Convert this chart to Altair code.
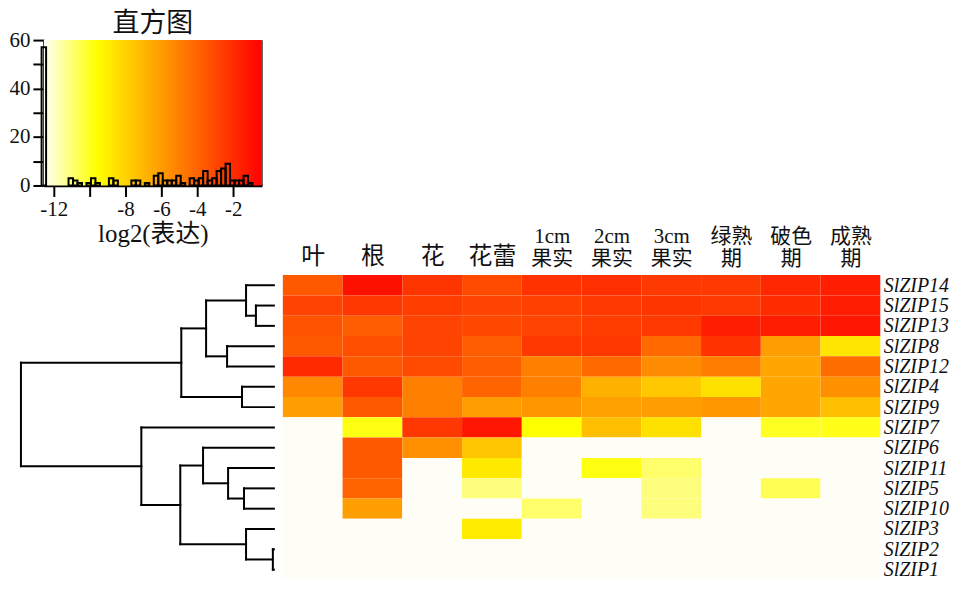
import json
import altair as alt
import pandas as pd

# ---------------- data ----------------
COLUMNS = [["", "叶"], ["", "根"], ["", "花"], ["", "花蕾"], ["1cm", "果实"], ["2cm", "果实"],
           ["3cm", "果实"], ["绿熟", "期"], ["破色", "期"], ["成熟", "期"]]
GENES = ["SlZIP14", "SlZIP15", "SlZIP13", "SlZIP8", "SlZIP12", "SlZIP4", "SlZIP9",
         "SlZIP7", "SlZIP6", "SlZIP11", "SlZIP5", "SlZIP10", "SlZIP3", "SlZIP2", "SlZIP1"]

# log2(expression) per gene, columns in COLUMNS order; None = not detected
SlZIP14 = [-3.6, -1.0, -2.3, -3.1, -2.2, -2.1, -2.5, -2.5, -1.8, -1.5]
SlZIP15 = [-2.8, -2.4, -2.6, -2.8, -2.7, -2.5, -2.3, -2.5, -2.0, -1.4]
SlZIP13 = [-3.4, -3.8, -2.8, -3.0, -2.8, -2.6, -2.5, -1.5, -1.4, -1.2]
SlZIP8 = [-3.6, -3.2, -2.8, -3.8, -2.4, -2.4, -4.2, -2.2, -6.1, -8.7]
SlZIP12 = [-1.9, -3.6, -3.1, -3.8, -5.0, -4.2, -5.4, -4.9, -6.4, -4.4]
SlZIP4 = [-5.3, -2.4, -5.0, -4.0, -5.0, -6.8, -7.6, -8.5, -6.4, -5.6]
SlZIP9 = [-6.1, -3.6, -5.0, -6.1, -5.8, -6.2, -6.1, -5.9, -6.4, -7.3]
SlZIP7 = [None, -9.8, -2.4, -1.2, -9.6, -7.3, -8.5, None, -10.0, -9.9]
SlZIP6 = [None, -3.6, -5.6, -7.5, None, None, None, None, None, None]
SlZIP11 = [None, -3.6, None, -8.8, None, -9.8, -10.9, None, None, None]
SlZIP5 = [None, -4.0, None, -11.1, None, None, -11.1, None, -10.6, None]
SlZIP10 = [None, -6.1, None, None, -10.9, None, -11.1, None, None, None]
SlZIP3 = [None, None, None, -8.9, None, None, None, None, None, None]
SlZIP2 = [None, None, None, None, None, None, None, None, None, None]
SlZIP1 = [None, None, None, None, None, None, None, None, None, None]
ROWS = [SlZIP14, SlZIP15, SlZIP13, SlZIP8, SlZIP12, SlZIP4, SlZIP9, SlZIP7,
        SlZIP6, SlZIP11, SlZIP5, SlZIP10, SlZIP3, SlZIP2, SlZIP1]

BLANK = -12.55  # value used for undetected cells
COLOR_VALUES = [-12.55, -9.6, -0.4]
COLOR_RANGE = ["#FEFEF6", "#FFFF00", "#FF0000"]

HIST_X_DOMAIN = [-12.55, -0.4]
HIST_Y_DOMAIN = [0, 60]
HIST_BIN_EXTENT = [-12.675, -0.175]
HIST_BIN_STEP = 0.25
HIST_X_TICKS = [-12, -10, -8, -6, -4, -2]
HIST_Y_TICKS = [0, 10, 20, 30, 40, 50, 60]

# dendrogram: leaves are row indices 0..14 (GENES order); new nodes numbered 15..
MERGE_LEFT = [1, 0, 3, 16, 5, 18, 10, 9, 8, 13, 12, 23, 7, 20]
MERGE_RIGHT = [2, 15, 4, 17, 6, 19, 11, 21, 22, 14, 24, 25, 26, 27]
MERGE_HEIGHT = [0.71, 1.10, 1.85, 2.68, 1.26, 3.66, 1.18, 1.81, 2.80, 0.04, 1.10, 3.70, 5.24, 10.0]

# ---------------- tables ----------------
cells = []
for r, (gene, vals) in enumerate(zip(GENES, ROWS)):
    for c, v in enumerate(vals):
        cells.append({"gene": gene, "row0": r, "row1": r + 1, "col0": c, "col1": c + 1,
                      "value": BLANK if v is None else v})
cells = pd.DataFrame(cells)

node_y = {i: i + 0.5 for i in range(len(GENES))}
node_h = {i: 0.0 for i in range(len(GENES))}
segs = []
for k, (a, b, h) in enumerate(zip(MERGE_LEFT, MERGE_RIGHT, MERGE_HEIGHT)):
    n = len(GENES) + k
    node_y[n] = (node_y[a] + node_y[b]) / 2
    node_h[n] = h
    segs.append({"x": h, "x2": h, "y": node_y[a], "y2": node_y[b]})
    segs.append({"x": node_h[a], "x2": h, "y": node_y[a], "y2": node_y[a]})
    segs.append({"x": node_h[b], "x2": h, "y": node_y[b], "y2": node_y[b]})
segs = pd.DataFrame(segs)

SERIF = "Liberation Serif, Noto Sans CJK SC"

# ---------------- histogram ----------------
hx = alt.Scale(domain=HIST_X_DOMAIN, nice=False, zero=False)
hy = alt.Scale(domain=HIST_Y_DOMAIN, nice=False)
axis_common = dict(domainColor="black", domainWidth=2.5, tickColor="black", tickWidth=2,
                   tickSize=11, labelFont=SERIF, labelFontSize=21, labelColor="#111",
                   labelOverlap=False, labelFlush=False, grid=False)
x_axis = alt.Axis(values=HIST_X_TICKS, labelExpr="datum.value == -10 ? '' : '' + datum.value",
                  title="log2(表达)", titleFont=SERIF, titleFontSize=25, titleFontWeight="normal",
                  titleColor="#111", titlePadding=2, labelPadding=2, **axis_common)
y_axis = alt.Axis(values=HIST_Y_TICKS, labelExpr="datum.value % 20 == 0 ? '' + datum.value : ''",
                  title=None, labelPadding=3, **axis_common)

t0 = (COLOR_VALUES[1] - HIST_X_DOMAIN[0]) / (HIST_X_DOMAIN[1] - HIST_X_DOMAIN[0])
grad = alt.Gradient(gradient="linear", x1=0, x2=1, y1=0, y2=0,
                    stops=[alt.GradientStop(offset=0, color=COLOR_RANGE[0]),
                           alt.GradientStop(offset=t0, color=COLOR_RANGE[1]),
                           alt.GradientStop(offset=1, color=COLOR_RANGE[2])])
bg_df = pd.DataFrame({"x0": [HIST_X_DOMAIN[0]], "x1": [HIST_X_DOMAIN[1]],
                      "y0": [HIST_Y_DOMAIN[0]], "y1": [HIST_Y_DOMAIN[1]]})
bg = alt.Chart(bg_df).mark_rect(color=grad).encode(
    x=alt.X("x0:Q", scale=hx, axis=x_axis), x2="x1:Q",
    y=alt.Y("y0:Q", scale=hy, axis=y_axis), y2="y1:Q")

bars = alt.Chart(cells).transform_bin(
    "b", "value", bin=alt.Bin(extent=HIST_BIN_EXTENT, step=HIST_BIN_STEP, nice=False)
).transform_aggregate(n="count()", groupby=["b", "b_end"]).mark_bar(
    fillOpacity=0, stroke="black", strokeWidth=2
).encode(x=alt.X("b:Q", scale=hx, axis=x_axis), x2="b_end:Q",
         y=alt.Y("n:Q", scale=hy, axis=y_axis), y2=alt.datum(0))

hist = alt.layer(bg, bars).properties(
    width=219, height=146,
    title=alt.Title("直方图", font=SERIF, fontSize=27, fontWeight="normal", color="#111",
                    offset=-9),
    view=alt.ViewBackground(stroke="#555", strokeWidth=1))

# ---------------- heatmap + dendrogram ----------------
# pixel ranges inside the main plot (plot origin is shared with the histogram's)
HEAT_RANGE = [240, 840]
DENDRO_RANGE = [231, -23]
MAIN_W, MAIN_H = 840, 306

col_expr = json.dumps(COLUMNS, ensure_ascii=False) + "[floor(datum.value)]"
gene_expr = json.dumps(GENES) + "[floor(datum.value)]"
ys = alt.Scale(domain=[0, len(GENES)], reverse=True, nice=False, zero=False)
row_axis = alt.Axis(orient="right", values=[i + 0.5 for i in range(len(GENES))],
                    labelExpr=gene_expr, domain=False, ticks=False, grid=False,
                    labelFont="Liberation Serif", labelFontStyle="italic", labelFontSize=20,
                    labelColor="#111", labelPadding=3, labelOverlap=False, labelFlush=False,
                    title=None)

heat = alt.Chart(cells).mark_rect().encode(
    x=alt.X("col0:Q", scale=alt.Scale(domain=[0, len(COLUMNS)], range=HEAT_RANGE, nice=False, zero=False),
            axis=alt.Axis(orient="top", values=[i + 0.5 for i in range(len(COLUMNS))],
                          labelExpr=col_expr, domain=False, ticks=False, grid=False,
                          labelFont=SERIF, labelColor="#111", labelAngle=0,
                          labelFontSize={"condition": {"test": "datum.value < 4", "value": 24}, "value": 21},
                          labelLineHeight=22, labelPadding=29, labelOverlap=False, labelFlush=False,
                          title=None)),
    x2="col1:Q",
    y=alt.Y("row0:Q", scale=ys, axis=row_axis),
    y2="row1:Q",
    color=alt.Color("value:Q", scale=alt.Scale(domain=COLOR_VALUES, range=COLOR_RANGE, interpolate="rgb"),
                    legend=None))

dendro = alt.Chart(segs).mark_rule(color="black", strokeWidth=2, strokeCap="square").encode(
    x=alt.X("x:Q", scale=alt.Scale(domain=[0, 10], range=DENDRO_RANGE, nice=False, zero=False), axis=None),
    x2="x2:Q",
    y=alt.Y("y:Q", scale=ys, axis=row_axis), y2="y2:Q")

main = alt.layer(heat, dendro).resolve_scale(x="independent").properties(width=MAIN_W, height=MAIN_H)

chart = alt.concat(hist, main, columns=1, spacing=-25, align="none", padding=0,
                   background="white").configure_view(strokeWidth=0)
chart.save("out.html", embed_options={"renderer": "svg", "actions": False})
